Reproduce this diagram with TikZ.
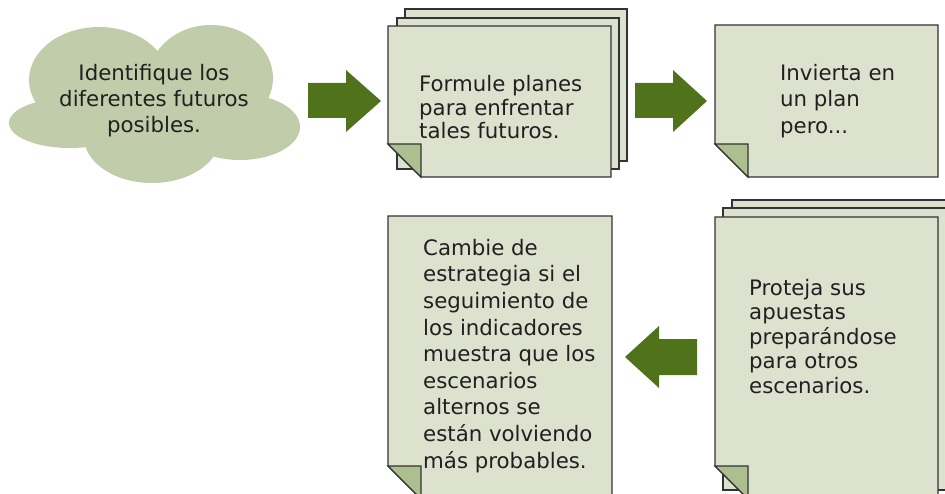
\documentclass[tikz,border=0pt]{standalone}
\usepackage{fontspec}
\setmainfont{DejaVu Sans}
\definecolor{pagefill}{HTML}{DCE2CD}
\definecolor{foldfill}{HTML}{ADBE8F}
\definecolor{cloudfill}{HTML}{C1CCAA}
\definecolor{arrowfill}{HTML}{4F721A}
\definecolor{inkgray}{HTML}{231F20}
\definecolor{edgegray}{HTML}{333333}
\tikzset{
  pagestyle/.style={fill=pagefill, draw=edgegray, line width=1.2pt, line join=miter},
  foldstyle/.style={fill=foldfill, draw=edgegray, line width=1.2pt},
  cloudpart/.style={fill=cloudfill, draw=none},
  blockarrow/.style={fill=arrowfill, draw=none},
  txt/.style={inner sep=0pt, text=inkgray, font=\fontsize{21.3}{#1}\selectfont},
}
\newcommand\docpage[5]{%
  \draw[pagestyle] (#2,#3) -- (#4,#3) -- (#4,#5) -- (#2+33,#5) -- (#2,#5-33) -- cycle;
  \draw[foldstyle] (#2,#5-33) -- (#2+33,#5-33) -- (#2+33,#5) -- cycle;
  \coordinate (#1) at (#2,#3);
}
\begin{document}
\begin{tikzpicture}[x=1pt,y=-1pt]
\useasboundingbox (0,0) rectangle (945,494);
\clip (0,0) rectangle (945,494);
% cloud
\fill[cloudpart] (99,80) ellipse [x radius=70, y radius=53];
\fill[cloudpart] (211,78) ellipse [x radius=62, y radius=53];
\fill[cloudpart] (70,123) ellipse [x radius=61, y radius=25];
\fill[cloudpart] (240,127) ellipse [x radius=60, y radius=33];
\fill[cloudpart] (152,137) ellipse [x radius=68, y radius=46];
\fill[cloudpart] (85,80) rectangle (235,140);
\node[txt=26, align=center, anchor=north] (cloudtext) at (154,64)
  {Identifique los\\diferentes futuros\\posibles.};
% stack of plans
\draw[pagestyle] (405,9) rectangle (627,161);
\draw[pagestyle] (397,18) rectangle (619,169);
\docpage{planes}{388}{26}{611}{177}
\node[txt=23.7, align=left, anchor=north west] (planestext) at (419,75)
  {Formule planes\\para enfrentar\\tales futuros.};
% single plan
\docpage{invierta}{715}{25}{938}{177}
\node[txt=26.5, align=left, anchor=north west] (inviertatext) at (780,64)
  {Invierta en\\un plan\\pero...};
% bottom right stack
\draw[pagestyle] (732,200) rectangle (955,482);
\draw[pagestyle] (723,208) rectangle (946,490);
\docpage{proteja}{715}{217}{938}{499}
\node[txt=24.5, align=left, anchor=north west] (protejatext) at (749,279)
  {Proteja sus\\apuestas\\preparándose\\para otros\\escenarios.};
% bottom left
\docpage{cambie}{388}{216}{612}{499}
\node[txt=26.6, align=left, anchor=north west] (cambietext) at (423,239)
  {Cambie de\\estrategia si el\\seguimiento de\\los indicadores\\muestra que los\\escenarios\\alternos se\\están volviendo\\más probables.};
% block arrows
\fill[blockarrow] (308,83) -- (346,83) -- (346,70) -- (381,101) -- (346,132) -- (346,118) -- (308,118) -- cycle;
\fill[blockarrow] (635,83) -- (673,83) -- (673,70) -- (707,101) -- (673,132) -- (673,118) -- (635,118) -- cycle;
\fill[blockarrow] (697,339) -- (659,339) -- (659,326) -- (625,357) -- (659,388) -- (659,375) -- (697,375) -- cycle;
\end{tikzpicture}
\end{document}
